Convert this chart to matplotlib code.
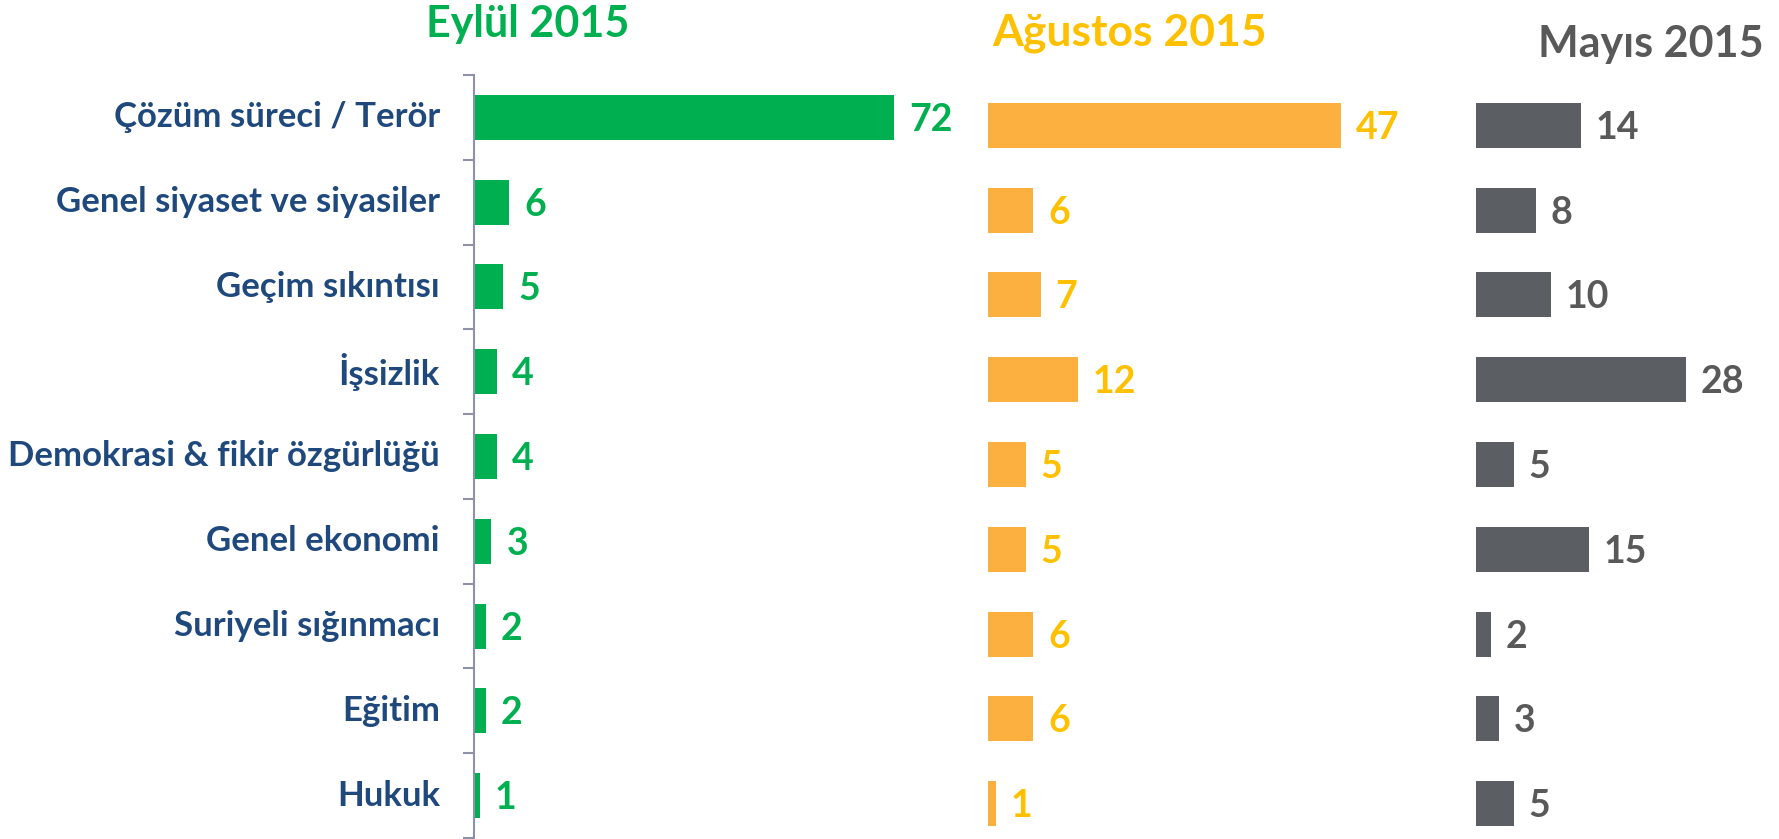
import matplotlib
matplotlib.use("Agg")
import matplotlib.pyplot as plt

categories = ["Çözüm süreci / Terör", "Genel siyaset ve siyasiler", "Geçim sıkıntısı",
              "İşsizlik", "Demokrasi & fikir özgürlüğü", "Genel ekonomi",
              "Suriyeli sığınmacı", "Eğitim", "Hukuk"]
eylul = [72, 6, 5, 4, 4, 3, 2, 2, 1]
agustos = [47, 6, 7, 12, 5, 5, 6, 6, 1]
mayis = [14, 8, 10, 28, 5, 15, 2, 3, 5]
titles = ["Eylül 2015", "Ağustos 2015", "Mayıs 2015"]

W, H = 1779, 839
fig = plt.figure(figsize=(W / 100, H / 100), dpi=100)
FONT = "Lato"

def px_axes(left, top, width, height):
    return fig.add_axes([left / W, 1 - (top + height) / H, width / W, height / H])

n = len(categories)
ypos = list(range(n))

ax1 = px_axes(474, 75, 80 * 5.83, 763)
ax2 = px_axes(988, 83, 60 * 7.5, 763)
ax3 = px_axes(1476, 83, 36 * 7.5, 763)

specs = [
    (ax1, eylul, "#00B050", "#00B050", 80, 5.83),
    (ax2, agustos, "#FBB040", "#FFC000", 60, 7.5),
    (ax3, mayis, "#5B5F63", "#595959", 36, 7.5),
]

for ax, vals, bcol, lcol, xmax, ppu in specs:
    ax.barh(ypos, vals, height=0.53, color=bcol)
    ax.set_xlim(0, xmax)
    ax.set_ylim(n - 0.5, -0.5)
    for y, v in zip(ypos, vals):
        ax.text(v + 15 / ppu, y + 0.03, str(v), va="center", ha="left", color=lcol,
                fontsize=27, fontweight="bold", family=FONT)
    ax.set_xticks([])
    for s in ["top", "right", "bottom", "left"]:
        ax.spines[s].set_visible(False)
    ax.set_yticks([])
    ax.patch.set_alpha(0)

ax1.spines["left"].set_visible(True)
ax1.spines["left"].set_color("#8E92A8")
ax1.spines["left"].set_linewidth(1.5)
ax1.set_yticks([i - 0.5 for i in range(n + 1)])
ax1.set_yticklabels([])
ax1.tick_params(axis="y", length=8, width=1.5, color="#8E92A8", direction="out")
for y, c in zip(ypos, categories):
    ax1.text(-34 / 5.83, y, c, va="center", ha="right", color="#1F497D",
             fontsize=25, fontweight="bold", family=FONT)

fig.text(528 / W, 1 - 24 / H, titles[0], ha="center", va="center", color="#00B050",
         fontsize=31, fontweight="bold", family=FONT)
fig.text(1130 / W, 1 - 33 / H, titles[1], ha="center", va="center", color="#FFC000",
         fontsize=32, fontweight="bold", family=FONT)
fig.text(1651 / W, 1 - 44 / H, titles[2], ha="center", va="center", color="#595959",
         fontsize=31, fontweight="bold", family=FONT)

fig.savefig("out.png", dpi=100)
